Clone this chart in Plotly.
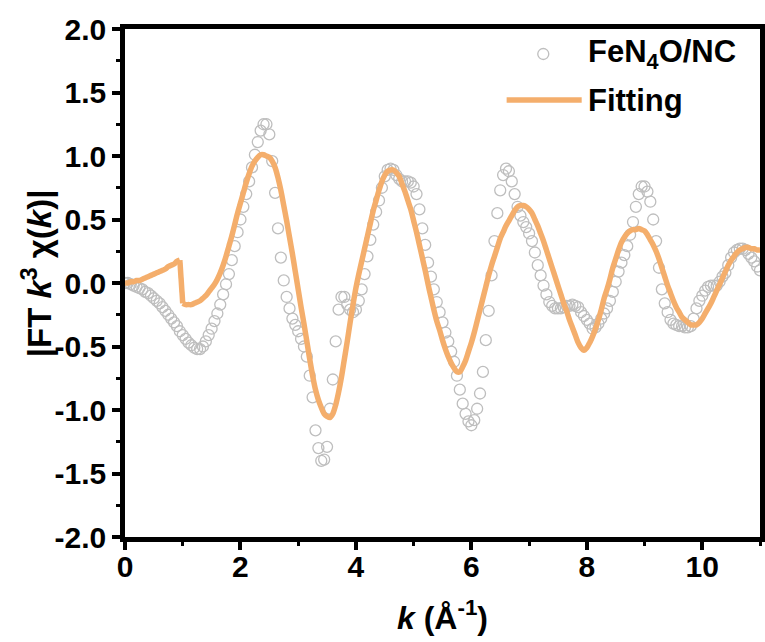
import plotly.graph_objects as go

# k grid (Å^-1)
k = [
    0.00, 0.05, 0.10, 0.15, 0.20, 0.25, 0.30, 0.35, 0.40, 0.45, 0.50, 0.55, 0.60, 0.65, 0.70, 0.75, 0.80, 0.85, 0.90, 0.95,
    1.00, 1.05, 1.10, 1.15, 1.20, 1.25, 1.30, 1.35, 1.40, 1.45, 1.50, 1.55, 1.60, 1.65, 1.70, 1.75, 1.80, 1.85, 1.90, 1.95,
    2.00, 2.05, 2.10, 2.15, 2.20, 2.25, 2.30, 2.35, 2.40, 2.45, 2.50, 2.55, 2.60, 2.65, 2.70, 2.75, 2.80, 2.85, 2.90, 2.95,
    3.00, 3.05, 3.10, 3.15, 3.20, 3.25, 3.30, 3.35, 3.40, 3.45, 3.50, 3.55, 3.60, 3.65, 3.70, 3.75, 3.80, 3.85, 3.90, 3.95,
    4.00, 4.05, 4.10, 4.15, 4.20, 4.25, 4.30, 4.35, 4.40, 4.45, 4.50, 4.55, 4.60, 4.65, 4.70, 4.75, 4.80, 4.85, 4.90, 4.95,
    5.00, 5.05, 5.10, 5.15, 5.20, 5.25, 5.30, 5.35, 5.40, 5.45, 5.50, 5.55, 5.60, 5.65, 5.70, 5.75, 5.80, 5.85, 5.90, 5.95,
    6.00, 6.05, 6.10, 6.15, 6.20, 6.25, 6.30, 6.35, 6.40, 6.45, 6.50, 6.55, 6.60, 6.65, 6.70, 6.75, 6.80, 6.85, 6.90, 6.95,
    7.00, 7.05, 7.10, 7.15, 7.20, 7.25, 7.30, 7.35, 7.40, 7.45, 7.50, 7.55, 7.60, 7.65, 7.70, 7.75, 7.80, 7.85, 7.90, 7.95,
    8.00, 8.05, 8.10, 8.15, 8.20, 8.25, 8.30, 8.35, 8.40, 8.45, 8.50, 8.55, 8.60, 8.65, 8.70, 8.75, 8.80, 8.85, 8.90, 8.95,
    9.00, 9.05, 9.10, 9.15, 9.20, 9.25, 9.30, 9.35, 9.40, 9.45, 9.50, 9.55, 9.60, 9.65, 9.70, 9.75, 9.80, 9.85, 9.90, 9.95,
    10.00, 10.05, 10.10, 10.15, 10.20, 10.25, 10.30, 10.35, 10.40, 10.45, 10.50, 10.55, 10.60, 10.65, 10.70, 10.75, 10.80, 10.85, 10.90, 10.95,
    11.00,
]

# measured k^3-weighted signal, FeN4O/NC
chi_exp = [
    0.00, 0.00, -0.01, -0.02, -0.03, -0.04, -0.05, -0.07, -0.08, -0.10, -0.12, -0.14, -0.16, -0.19, -0.22, -0.25, -0.28, -0.31, -0.34, -0.38,
    -0.41, -0.44, -0.47, -0.49, -0.51, -0.52, -0.52, -0.50, -0.46, -0.41, -0.36, -0.30, -0.24, -0.17, -0.09, -0.01, 0.07, 0.18, 0.29, 0.40,
    0.50, 0.60, 0.70, 0.80, 0.91, 1.01, 1.11, 1.20, 1.25, 1.25, 1.17, 0.96, 0.71, 0.43, 0.20, 0.02, -0.11, -0.20, -0.28, -0.33,
    -0.38, -0.44, -0.50, -0.58, -0.73, -0.90, -1.16, -1.30, -1.40, -1.39, -1.29, -0.99, -0.76, -0.46, -0.21, -0.11, -0.11, -0.17, -0.21, -0.23,
    -0.21, -0.14, -0.05, 0.07, 0.21, 0.34, 0.46, 0.56, 0.65, 0.75, 0.84, 0.89, 0.90, 0.89, 0.85, 0.82, 0.80, 0.80, 0.80, 0.79,
    0.76, 0.70, 0.58, 0.43, 0.30, 0.16, 0.05, -0.05, -0.15, -0.23, -0.31, -0.39, -0.46, -0.54, -0.62, -0.73, -0.84, -0.95, -1.03, -1.09,
    -1.12, -1.08, -0.99, -0.87, -0.70, -0.45, -0.22, 0.06, 0.33, 0.55, 0.73, 0.85, 0.90, 0.88, 0.80, 0.70, 0.60, 0.53, 0.48, 0.44,
    0.39, 0.33, 0.24, 0.14, 0.06, -0.02, -0.09, -0.15, -0.18, -0.20, -0.20, -0.20, -0.19, -0.18, -0.18, -0.17, -0.18, -0.19, -0.23, -0.26,
    -0.29, -0.32, -0.36, -0.35, -0.32, -0.28, -0.24, -0.20, -0.14, -0.07, 0.01, 0.09, 0.16, 0.22, 0.29, 0.38, 0.48, 0.60, 0.70, 0.76,
    0.76, 0.72, 0.64, 0.50, 0.33, 0.12, -0.05, -0.16, -0.23, -0.29, -0.32, -0.33, -0.34, -0.34, -0.35, -0.35, -0.34, -0.28, -0.20, -0.14,
    -0.10, -0.06, -0.03, -0.02, -0.02, -0.02, 0.01, 0.05, 0.08, 0.14, 0.20, 0.24, 0.26, 0.27, 0.27, 0.26, 0.23, 0.20, 0.17, 0.13,
    0.10,
]

# fitted curve; it steps down between k = 0.95 and k = 1.00
chi_fit = [
    0.00, 0.00, 0.01, 0.01, 0.02, 0.02, 0.03, 0.04, 0.05, 0.06, 0.07, 0.08, 0.09, 0.10, 0.11, 0.13, 0.14, 0.15, 0.17, 0.18,
    -0.16, -0.17, -0.17, -0.17, -0.16, -0.15, -0.14, -0.12, -0.10, -0.07, -0.04, -0.01, 0.03, 0.08, 0.14, 0.21, 0.29, 0.37, 0.46, 0.55,
    0.63, 0.71, 0.79, 0.86, 0.92, 0.96, 0.99, 1.01, 1.01, 1.00, 0.99, 0.96, 0.91, 0.83, 0.73, 0.61, 0.49, 0.36, 0.23, 0.09,
    -0.05, -0.19, -0.32, -0.46, -0.60, -0.73, -0.84, -0.92, -0.98, -1.03, -1.05, -1.06, -1.03, -0.96, -0.86, -0.74, -0.60, -0.46, -0.31, -0.17,
    -0.04, 0.07, 0.17, 0.27, 0.37, 0.47, 0.57, 0.65, 0.73, 0.80, 0.85, 0.88, 0.89, 0.89, 0.87, 0.84, 0.78, 0.72, 0.65, 0.58,
    0.49, 0.40, 0.30, 0.20, 0.10, -0.01, -0.11, -0.21, -0.30, -0.37, -0.45, -0.52, -0.58, -0.63, -0.67, -0.70, -0.70, -0.66, -0.61, -0.54,
    -0.47, -0.39, -0.30, -0.21, -0.12, -0.03, 0.06, 0.14, 0.21, 0.28, 0.35, 0.40, 0.45, 0.49, 0.53, 0.57, 0.60, 0.61, 0.61, 0.60,
    0.58, 0.55, 0.50, 0.45, 0.39, 0.33, 0.26, 0.19, 0.12, 0.05, -0.02, -0.09, -0.16, -0.22, -0.29, -0.35, -0.41, -0.47, -0.51, -0.53,
    -0.51, -0.47, -0.42, -0.36, -0.29, -0.21, -0.12, -0.05, 0.03, 0.12, 0.19, 0.26, 0.32, 0.36, 0.39, 0.41, 0.42, 0.42, 0.43, 0.42,
    0.41, 0.38, 0.34, 0.30, 0.25, 0.19, 0.12, 0.05, -0.02, -0.08, -0.14, -0.19, -0.23, -0.27, -0.29, -0.31, -0.33, -0.33, -0.33, -0.31,
    -0.28, -0.24, -0.20, -0.16, -0.11, -0.06, -0.01, 0.04, 0.09, 0.14, 0.18, 0.21, 0.24, 0.26, 0.27, 0.28, 0.28, 0.27, 0.27, 0.26,
    0.26,
]

x_ticks = [0, 2, 4, 6, 8, 10]
x_minor = [1, 3, 5, 7, 9, 11]
y_ticks = [-2.0, -1.5, -1.0, -0.5, 0.0, 0.5, 1.0, 1.5, 2.0]
y_minor = [-1.75, -1.25, -0.75, -0.25, 0.25, 0.75, 1.25, 1.75]
series_names = ["FeN<sub>4</sub>O/NC", "Fitting"]
x_title = "<i>k</i> (Å<sup>-1</sup>)"
y_title = "|FT <i>k</i><sup>3</sup> χ(<i>k</i>)|"

FONT = "Liberation Sans, Arial, sans-serif"
ORANGE = "#F4AE6C"
GREY = "#BEBEBE"

tick_font = dict(family=FONT, size=30, color="black", weight="bold")
title_font = dict(family=FONT, size=32, color="black", weight="bold")
ytitle_font = dict(family=FONT, size=33, color="black", weight="bold")
legend_font = dict(family=FONT, size=31, color="black", weight="bold")

# split the fit at the step so the smoothing does not overshoot it
STEP = 20

fig = go.Figure()
fig.add_trace(go.Scatter(
    x=k, y=chi_exp, mode="markers", name=series_names[0],
    marker=dict(symbol="circle-open", size=11, color=GREY, line=dict(width=1.3)),
    showlegend=False,
))
fig.add_trace(go.Scatter(
    x=k[:STEP], y=chi_fit[:STEP], mode="lines", name=series_names[1],
    line=dict(color=ORANGE, width=5.5, shape="spline", smoothing=0.8),
    showlegend=False,
))
fig.add_trace(go.Scatter(
    x=k[STEP - 1:STEP + 1], y=chi_fit[STEP - 1:STEP + 1], mode="lines",
    line=dict(color=ORANGE, width=5.5), showlegend=False,
))
fig.add_trace(go.Scatter(
    x=k[STEP:], y=chi_fit[STEP:], mode="lines", name=series_names[1],
    line=dict(color=ORANGE, width=5.5, shape="spline", smoothing=0.8),
    showlegend=False,
))

axis_style = dict(
    showline=True, linecolor="black", linewidth=4.5, mirror=True,
    ticks="outside", ticklen=8, tickwidth=3.5, tickcolor="black",
    showgrid=False, zeroline=False, tickfont=tick_font, automargin=False,
)

fig.update_xaxes(
    range=[0, 11], tickmode="array", tickvals=x_ticks,
    ticktext=[str(v) for v in x_ticks], ticklabelstandoff=-9,
    minor=dict(tickmode="array", tickvals=x_minor, ticks="outside",
               ticklen=4, tickwidth=3, tickcolor="black", showgrid=False),
    title=dict(text=x_title, font=title_font, standoff=26),
    **axis_style,
)
fig.update_yaxes(
    range=[-2.0, 2.0], tickmode="array", tickvals=y_ticks,
    ticktext=[f"{v:.1f}" for v in y_ticks],
    minor=dict(tickmode="array", tickvals=y_minor, ticks="outside",
               ticklen=4, tickwidth=3, tickcolor="black", showgrid=False),
    **axis_style,
)

# rotated y-axis title
fig.add_annotation(xref="paper", yref="paper", x=-0.139, y=0.5187,
                   xanchor="center", yanchor="middle", showarrow=False,
                   textangle=-90, text=y_title, font=ytitle_font)

# hand-drawn legend in the upper right
fig.add_shape(type="circle", xref="paper", yref="paper",
              xsizemode="pixel", ysizemode="pixel",
              xanchor=0.6587, yanchor=0.9508, x0=-5.5, x1=5.5, y0=-5.5, y1=5.5,
              line=dict(color=GREY, width=1.3))
fig.add_shape(type="line", xref="paper", yref="paper",
              x0=0.601, x1=0.7192, y0=0.8602, y1=0.8602,
              line=dict(color=ORANGE, width=5.5))
fig.add_annotation(xref="paper", yref="paper", x=0.726, y=0.951,
                   xanchor="left", yanchor="middle", showarrow=False,
                   text=series_names[0], font=legend_font)
fig.add_annotation(xref="paper", yref="paper", x=0.726, y=0.8602,
                   xanchor="left", yanchor="middle", showarrow=False,
                   text=series_names[1], font=legend_font)

fig.update_layout(
    template="none",
    width=765, height=642,
    margin=dict(l=125, r=5, t=29, b=105),
    plot_bgcolor="white", paper_bgcolor="white",
    font=dict(family=FONT, color="black"),
    showlegend=False,
)

fig.write_html("out.html")
